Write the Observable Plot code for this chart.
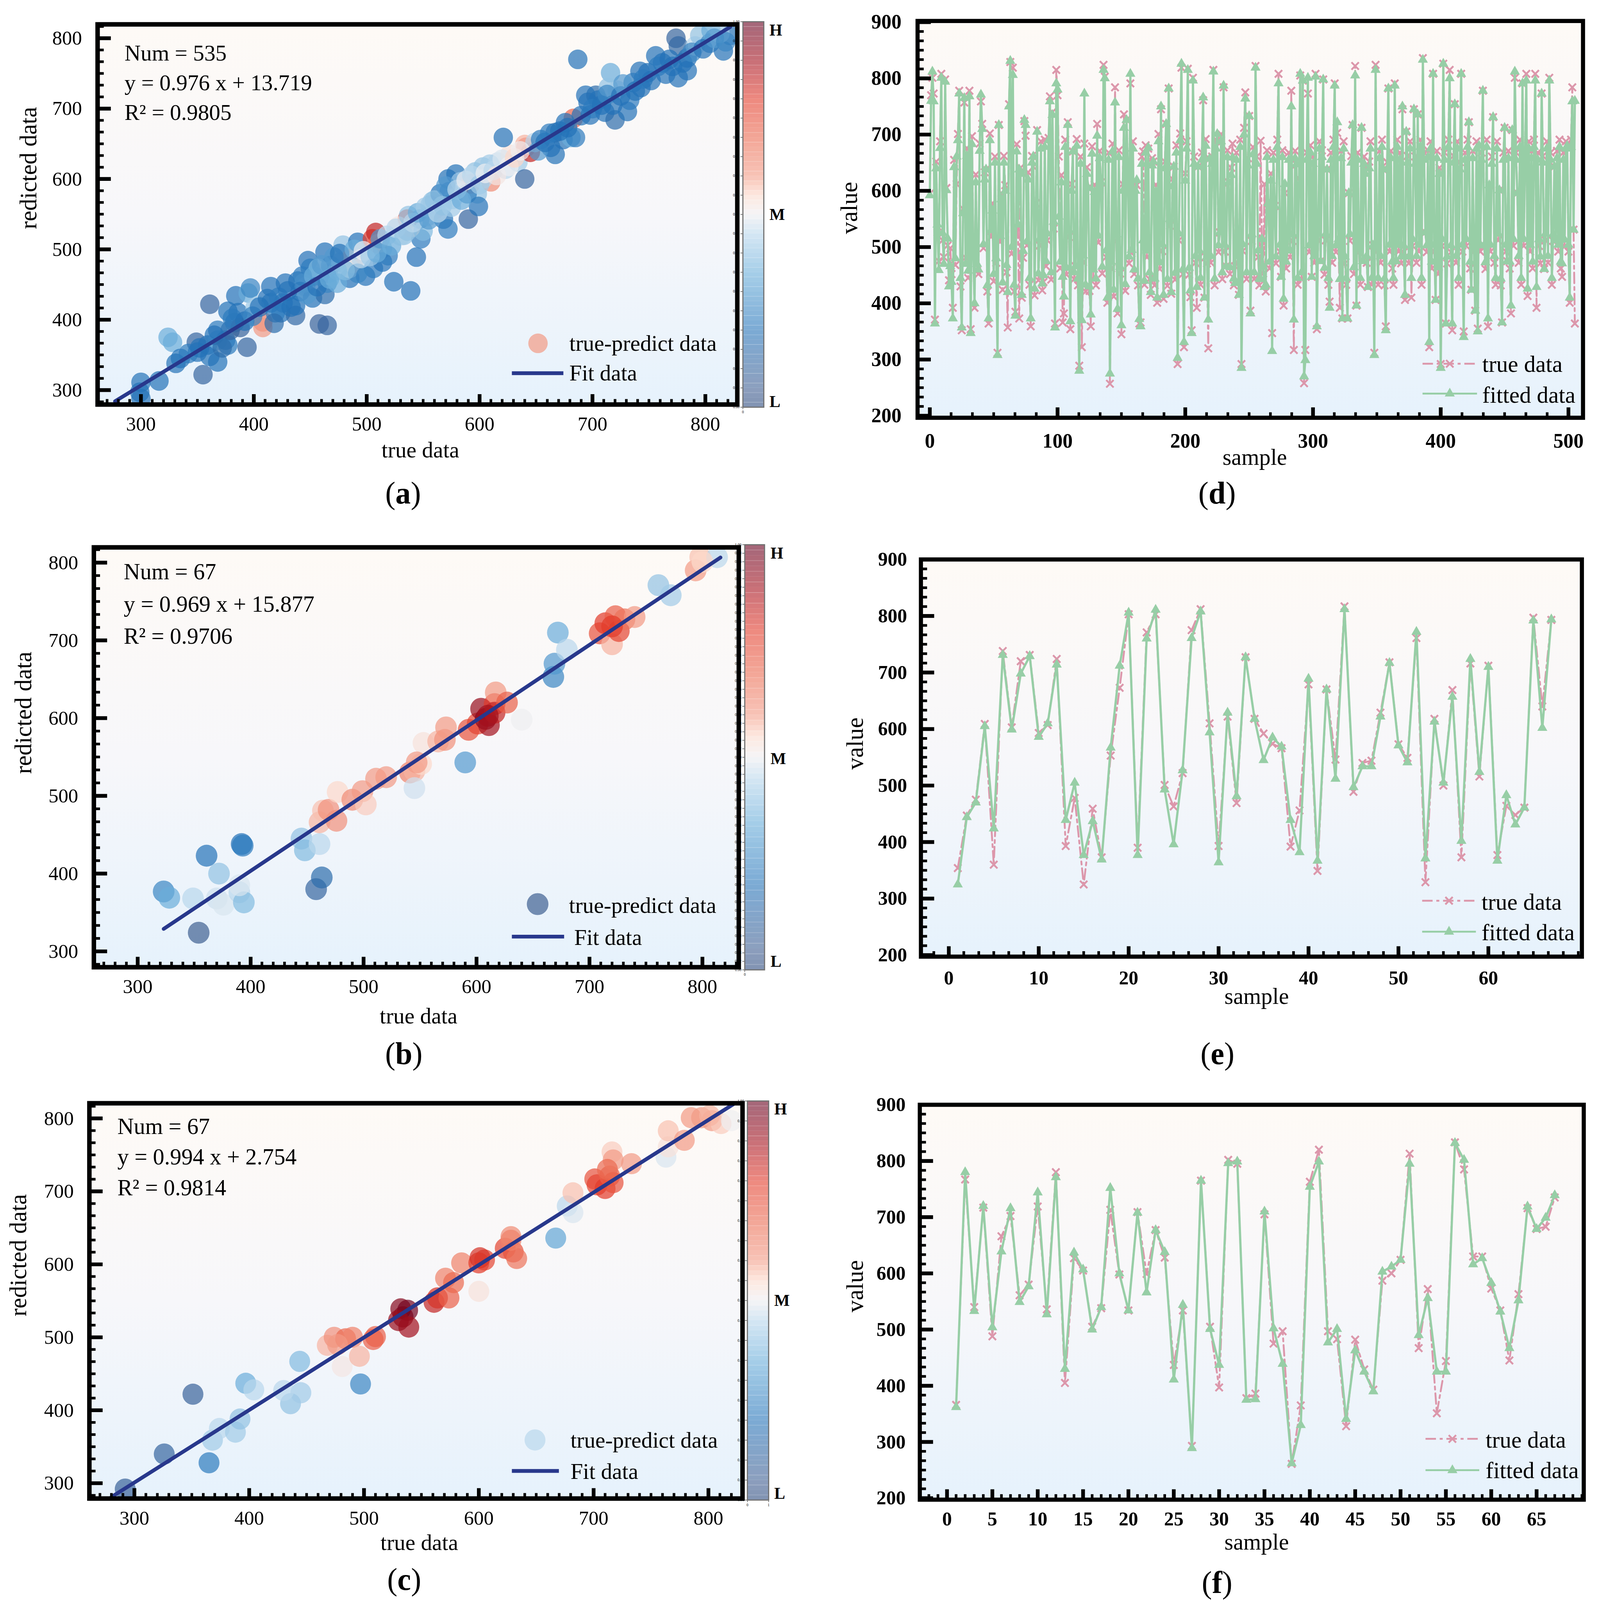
<!DOCTYPE html>
<html><head><meta charset="utf-8">
<script src="https://cdn.jsdelivr.net/npm/d3@7"></script>
<script src="https://cdn.jsdelivr.net/npm/@observablehq/plot@0.6"></script>
<style>
html,body{margin:0;padding:0;background:#fff;overflow:hidden;}
#page{position:relative;width:4287px;height:4234px;background:#fff;overflow:hidden;font-family:"Liberation Serif",serif;}
.cap{position:absolute;font-size:82px;line-height:1;transform:translate(-50%,-50%);white-space:nowrap;color:#000;font-family:"Liberation Serif",serif;}
</style></head>
<body>
<svg width="0" height="0" style="position:absolute"><defs>
<linearGradient id="bg" x1="0" y1="0" x2="0" y2="1">
<stop offset="0" stop-color="#fefaf6"/><stop offset="0.5" stop-color="#f7f7fa"/><stop offset="1" stop-color="#e6f2fc"/>
</linearGradient></defs></svg>
<div id="page"></div>
<script>
// ---------------- DATA ----------------
// scatter (a): [true, predicted, density level]
const aPoints = [[300,311,0.2],[299,297,0.2],[300,288,0.2],[316,313,0.2],[331,338,0.2],[324,375,0.35],[328,368,0.35],[349,368,0.1],[355,322,0.1],[359,364,0.2],[361,348,0.2],[368,371,0.35],[375,371,0.2],[377,364,0.22],[379,385,0.1],[383,396,0.2],[377,412,0.2],[386,410,0.2],[388,389,0.08],[394,361,0.1],[361,422,0.1],[384,434,0.2],[395,438,0.35],[397,445,0.25],[404,420,0.45],[408,397,0.65],[408,389,0.6],[415,447,0.2],[415,424,0.2],[424,410,0.2],[426,424,0.2],[430,441,0.2],[437,406,0.12],[437,420,0.2],[439,455,0.2],[446,447,0.4],[448,484,0.2],[450,473,0.22],[452,431,0.2],[458,394,0.08],[465,392,0.1],[463,436,0.15],[463,496,0.2],[466,466,0.4],[465,452,0.25],[468,477,0.2],[477,482,0.4],[479,506,0.4],[485,459,0.2],[486,487,0.57],[488,480,0.55],[485,473,0.48],[492,510,0.2],[499,462,0.2],[506,473,0.22],[505,515,0.8],[508,524,0.85],[510,508,0.7],[514,501,0.4],[524,454,0.2],[539,441,0.2],[544,489,0.2],[548,515,0.22],[530,519,0.47],[536,543,0.75],[539,531,0.55],[528,533,0.52],[547,543,0.2],[554,547,0.42],[556,563,0.4],[561,557,0.45],[568,543,0.2],[572,529,0.22],[573,582,0.2],[579,607,0.2],[572,600,0.2],[576,571,0.42],[590,543,0.1],[592,593,0.65],[598,579,0.4],[599,561,0.2],[596,610,0.4],[603,617,0.4],[610,596,0.63],[616,624,0.47],[623,614,0.45],[627,635,0.53],[634,624,0.42],[621,659,0.2],[640,600,0.1],[641,645,0.75],[645,638,0.85],[640,649,0.58],[649,652,0.45],[663,645,0.2],[667,666,0.15],[674,656,0.2],[681,659,0.35],[685,659,0.22],[683,686,0.7],[687,770,0.2],[698,691,0.2],[696,709,0.2],[703,719,0.15],[705,712,0.2],[711,695,0.2],[720,684,0.15],[716,751,0.35],[722,726,0.45],[731,696,0.2],[733,712,0.22],[743,730,0.2],[742,753,0.2],[756,775,0.2],[749,751,0.2],[765,749,0.2],[776,744,0.2],[771,760,0.2],[774,800,0.1],[776,789,0.12],[784,772,0.2],[791,789,0.45],[795,804,0.4],[804,793,0.25],[805,811,0.35],[816,782,0.2],[822,804,0.2],[813,807,0.42],[457,473,0.38],[474,470,0.4],[444,452,0.38],[474,452,0.35],[492,466,0.25],[514,482,0.2],[519,491,0.22],[536,526,0.4],[550,526,0.38],[558,568,0.4],[565,579,0.2],[583,596,0.42],[589,579,0.22],[603,600,0.45],[609,621,0.42],[654,656,0.22],[667,635,0.2],[678,673,0.2],[694,719,0.2],[714,730,0.4],[718,705,0.2],[762,765,0.2],[736,737,0.22],[784,754,0.2],[401,417,0.42],[368,385,0.22],[419,410,0.22],[350,354,0.2],[368,340,0.2],
[335,345,0.2],[342,352,0.22],[352,360,0.2],[365,378,0.2],[372,360,0.15],[381,402,0.22],[392,398,0.2],[399,405,0.25],[405,418,0.2],[412,430,0.2],[418,395,0.15],[422,432,0.22],[428,452,0.2],[433,418,0.2],[441,440,0.2],[443,462,0.22],[447,436,0.3],[453,462,0.35],[456,447,0.2],[460,478,0.3],[467,458,0.35],[471,489,0.3],[476,494,0.2],[481,470,0.38],[489,500,0.35],[495,487,0.45],[497,498,0.5],[503,490,0.42],[509,495,0.35],[512,515,0.3],[518,520,0.45],[522,505,0.35],[526,530,0.45],[533,520,0.4],[537,548,0.4],[541,538,0.45],[545,552,0.35],[552,560,0.42],[555,542,0.3],[560,570,0.4],[563,552,0.45],[567,562,0.4],[570,590,0.3],[575,560,0.42],[580,585,0.45],[584,570,0.35],[588,598,0.5],[593,605,0.45],[600,592,0.42],[605,608,0.5],[612,612,0.45],[615,605,0.52],[620,628,0.48],[626,618,0.5],[631,630,0.55],[636,640,0.5],[652,640,0.3],[658,652,0.2],[662,665,0.22],[671,668,0.2],[676,680,0.2],[690,690,0.2],[700,700,0.22],[708,705,0.2],[713,720,0.25],[725,718,0.2],[727,735,0.3],[738,725,0.2],[745,742,0.22],[752,740,0.2],[758,760,0.22],[768,770,0.2],[780,765,0.2],[788,780,0.25],[798,785,0.2],[808,800,0.3],[818,795,0.25]];
// scatter (b)
const bPoints = [[323,377,0.25],[328,369,0.35],[349,368,0.45],[354,324,0.05],[361,423,0.2],[372,400,0.4],[370,368,0.47],[376,360,0.48],[390,376,0.45],[392,438,0.2],[393,436,0.22],[394,363,0.38],[445,445,0.4],[448,430,0.38],[461,438,0.45],[458,380,0.1],[463,395,0.15],[461,466,0.58],[464,481,0.57],[469,482,0.62],[476,468,0.62],[477,505,0.55],[490,495,0.63],[499,506,0.6],[502,489,0.56],[511,522,0.6],[520,524,0.6],[541,530,0.65],[545,532,0.58],[551,541,0.55],[545,510,0.47],[553,568,0.53],[566,570,0.58],[572,572,0.62],[573,588,0.6],[590,543,0.3],[593,585,0.75],[601,593,0.78],[604,612,0.92],[608,599,0.95],[611,591,0.9],[616,618,0.8],[617,633,0.6],[616,607,0.85],[627,620,0.72],[640,598,0.5],[668,653,0.25],[669,670,0.3],[672,710,0.35],[680,688,0.45],[709,709,0.75],[714,722,0.8],[720,695,0.58],[723,731,0.72],[726,712,0.78],[731,727,0.68],[740,730,0.6],[761,771,0.4],[772,758,0.42],[794,790,0.6],[798,807,0.57],[813,807,0.45],[800,801,0.55],[390,385,0.48],[720,718,0.8],[610,603,0.9],[547,543,0.6]];
// scatter (c)
const cPoints = [[292,292,0.08],[326,340,0.1],[351,422,0.08],[365,328,0.22],[368,359,0.42],[374,375,0.45],[388,370,0.42],[392,388,0.4],[397,437,0.35],[404,428,0.45],[436,409,0.4],[444,467,0.38],[445,424,0.42],[430,427,0.45],[468,489,0.58],[474,500,0.62],[481,460,0.52],[484,498,0.7],[490,500,0.65],[496,474,0.58],[497,436,0.25],[508,497,0.72],[510,501,0.72],[532,539,0.95],[534,528,0.95],[538,537,0.98],[539,514,0.9],[530,523,0.92],[561,548,0.85],[564,554,0.82],[574,554,0.72],[571,581,0.65],[578,575,0.7],[585,602,0.65],[600,563,0.53],[600,602,0.8],[605,606,0.78],[623,622,0.78],[628,638,0.63],[630,617,0.75],[633,608,0.68],[667,636,0.33],[677,680,0.45],[682,671,0.48],[682,698,0.57],[701,717,0.75],[703,709,0.78],[710,704,0.8],[714,721,0.72],[717,712,0.75],[716,754,0.56],[717,743,0.6],[733,738,0.6],[763,747,0.48],[765,761,0.53],[765,783,0.57],[779,770,0.6],[785,801,0.6],[794,801,0.6],[803,797,0.6],[811,793,0.56],[820,797,0.5],[628,633,0.65],[477,490,0.6],[601,609,0.82],[712,730,0.7],[801,804,0.58]];
const fitA = {slope: 0.976, icpt: 13.719, x: [277, 822]};
const fitB = {slope: 0.969, icpt: 15.877, x: [323, 816]};
const fitC = {slope: 0.994, icpt: 2.754, x: [280, 823]};
const eqA = ["Num = 535", "y = 0.976 x + 13.719", "R\u00b2 = 0.9805"];
const eqB = ["Num = 67", "y = 0.969 x + 15.877", "R\u00b2 = 0.9706"];
const eqC = ["Num = 67", "y = 0.994 x + 2.754", "R\u00b2 = 0.9814"];
const legendLevels = {a: 0.6, b: 0.05, c: 0.45};
const scatterTicks = [300, 400, 500, 600, 700, 800];

// time series (d): samples 0..505
const dTrue = [595,770,801,773,371,652,526,475,688,808, 512,482,798,605,503,441,498,452,392,655, 468,612,701,778,430,352,568,757,481,676, 445,778,354,697,502,392,629,458,452,684, 759,719,498,633,638,421,364,702,518,578, 439,661,472,312,717,509,596,424,662,610, 455,357,754,829,488,819,421,385,683,532, 373,641,410,481,724,698,503,633,433,359, 662,643,414,578,708,441,503,688,423,438, 691,466,512,694,768,442,740,533,364,815,
770,661,462,628,366,382,691,451,722,518, 354,612,670,443,466,692,432,289,661,322, 473,684,421,642,605,422,359,679,443,611, 432,719,508,671,615,453,824,803,482,401, 668,257,462,684,412,784,511,382,672,453, 345,612,736,422,726,651,471,791,489,688, 452,613,610,432,364,366,661,670,433,681, 482,675,443,415,658,652,432,611,401,701, 461,745,493,408,652,719,431,782,538,417, 621,643,442,681,292,512,702,819,452,322,
631,688,817,451,411,352,801,661,472,392, 643,482,433,668,761,410,692,471,320,657, 472,661,815,432,688,689,491,526,701,443, 784,492,466,672,615,452,641,684,432,466, 668,472,415,691,292,493,712,775,443,658, 733,387,511,678,443,822,661,482,432,689, 502,453,612,421,672,578,462,631,347,668, 573,471,691,808,492,447,672,396,596,462, 494,668,482,778,511,317,671,647,433,622, 805,443,796,258,317,668,773,491,681,447,
661,472,808,354,512,688,475,672,798,451, 512,638,433,403,668,472,691,791,491,703, 502,392,671,373,688,471,433,373,596,511, 662,717,452,822,396,668,491,433,712,475, 661,641,472,429,652,688,433,503,312,824, 492,433,671,472,691,638,432,359,651,782, 492,671,462,433,791,475,691,492,668,471, 745,491,406,705,662,471,688,410,502,745, 661,472,736,492,691,433,836,668,526,491, 672,322,688,462,808,492,406,671,452,641,
292,502,826,668,364,471,691,815,491,352, 662,754,472,688,433,651,808,492,350,668, 502,691,722,462,424,671,492,387,688,355, 680,492,668,778,503,461,691,359,610,492, 661,731,472,433,688,512,601,432,366,668, 712,492,475,671,462,382,708,502,801,668, 596,472,691,433,791,502,668,808,413,688, 492,671,462,691,808,392,668,502,471,773, 662,461,512,688,472,801,668,433,511,643, 512,671,492,691,462,447,668,501,688,680,
492,401,691,784,531,364];
const dFit = [592,760,812,759,364,640,540,459,676,801, 525,470,794,601,515,430,466,438,373,642, 480,661,690,773,445,357,560,765,470,662, 458,768,347,683,490,400,615,470,460,671, 771,710,505,620,638,432,373,690,530,565, 452,650,480,308,717,520,585,437,650,600, 468,420,750,831,500,806,433,378,670,540, 638,630,415,493,726,717,510,620,445,373, 650,661,426,566,705,453,515,675,435,450, 678,475,524,690,759,455,735,545,357,791,
780,554,474,615,447,412,678,463,717,530, 368,600,670,455,466,680,444,280,648,370, 485,773,433,630,605,430,380,666,460,598, 444,698,520,658,615,465,815,800,494,410, 655,275,474,670,424,757,523,390,660,465, 361,600,712,434,726,638,483,808,495,675, 460,600,619,444,372,359,648,512,440,668, 494,677,455,420,645,652,444,598,410,688, 473,750,505,415,640,719,443,782,550,420, 608,643,454,668,303,524,690,826,460,331,
618,675,815,463,423,347,796,648,484,429, 643,494,445,655,766,410,680,483,371,657, 484,648,812,444,675,701,503,526,688,455, 787,504,466,660,615,464,628,659,444,436, 655,484,415,678,285,505,700,764,455,645, 733,382,523,665,455,819,648,494,444,443, 514,465,429,433,660,578,474,618,315,655, 573,483,678,791,504,447,660,408,612,474, 494,655,494,750,523,371,658,647,445,610, 808,455,796,270,299,655,801,503,668,447,
648,484,803,359,524,675,475,660,798,463, 524,638,445,392,655,484,678,787,503,722, 514,443,658,373,675,483,445,373,596,523, 650,717,464,805,396,655,503,445,712,475, 648,630,484,429,640,675,445,503,308,815, 504,445,658,484,678,638,444,352,638,782, 504,658,474,445,787,475,678,504,655,483, 750,503,415,705,650,483,675,445,514,745, 648,484,736,504,678,445,833,655,526,503, 660,331,675,474,808,504,406,658,464,630,
285,514,826,655,364,483,678,800,503,364, 650,754,484,675,445,638,808,504,340,655, 514,678,722,474,424,658,504,387,675,350, 680,504,655,778,503,473,678,373,610,504, 648,731,484,445,675,524,601,444,366,655, 712,504,475,658,474,396,708,514,812,655, 596,484,678,445,791,514,655,796,426,675, 504,658,474,678,796,429,655,514,483,773, 650,461,524,675,484,796,655,445,523,643, 512,658,504,678,474,471,655,513,675,680,
504,410,678,759,531,760];
// time series (e): samples 1..67
const eTrue = [354,447,475,609,360,738,603,720,731,593,607,724,393,478,325,459,373,553,673,803,390,771,803,501,463,522,775,812,610,393,622,469,727,618,592,574,566,392,456,679,349,670,546,817,489,540,544,629,718,573,549,761,329,618,500,669,373,716,516,712,377,464,448,461,797,640,793];
const eFit = [325,444,470,605,424,731,599,698,729,586,610,714,439,505,377,437,369,567,712,806,377,760,811,493,396,527,761,808,594,364,629,481,727,618,545,585,569,439,382,689,367,670,512,812,497,534,534,622,717,571,541,772,371,613,505,657,402,724,524,710,367,483,431,461,792,602,794];
// time series (f): samples 1..67
const fTrue = [366,767,540,717,488,666,702,561,580,719,536,780,405,627,605,505,538,713,598,534,709,599,677,628,437,534,293,765,505,397,802,795,378,386,705,475,497,261,365,763,820,497,483,328,482,429,393,587,600,624,813,467,572,351,444,833,785,630,630,573,534,445,563,716,679,683,735];
const fFit = [362,780,533,720,504,639,716,549,577,744,527,771,430,637,607,500,540,752,600,534,708,566,677,638,411,544,289,765,501,437,796,799,375,376,710,502,439,262,330,754,799,477,501,341,463,425,390,603,612,624,795,490,556,425,425,832,802,616,627,583,532,467,552,719,679,699,739];
const tsYTicks = [200, 300, 400, 500, 600, 700, 800, 900];
const dXTicks = [0, 100, 200, 300, 400, 500];
const eXTicks = [0, 10, 20, 30, 40, 50, 60];
const fXTicks = [0, 5, 10, 15, 20, 25, 30, 35, 40, 45, 50, 55, 60, 65];
const colorbarLabels = ["H", "M", "L"];
const legendNames = {scatter: ["true-predict data", "Fit data"], ts: ["true data", "fitted data"]};
const axisTitles = {scatter: ["true data", "redicted data"], ts: ["sample", "value"]};

// ---------------- STYLE ----------------
const FONT = "Liberation Serif";
const NAVY = "#28388c", PINK = "#dc97ab", GREEN = "#97cea6";
const COLOR = {type: "linear", interpolate: "rgb",
  domain: [0, 0.05, 0.2, 0.35, 0.45, 0.5, 0.55, 0.6, 0.7, 0.8, 0.9, 1],
  range: ["#2b4a7e","#3f5f92","#2372b8","#6aadda","#b9d7ec","#eeeef1","#fcd9cb","#f29a85","#eb6a50","#e23a2a","#a3101d","#67001f"]};
const page = document.getElementById("page");
function put(node, left, top) {
  node.style.position = "absolute"; node.style.left = left + "px"; node.style.top = top + "px";
  page.appendChild(node);
}
const hseg = (L) => ({draw(ctx) { ctx.moveTo(-L, 0); ctx.lineTo(L, 0); }});
const within = (arr, d) => arr.filter(v => v >= Math.min(...d) && v <= Math.max(...d));

function tickMarks(fr, xMaj, xMin, yMaj, yMin, xd, yd) {
  const fw = fr.r - fr.l, fh = fr.b - fr.t;
  return [
    Plot.ruleX(within(xMin, xd), {stroke: "black", strokeWidth: 7, insetTop: fh - 14}),
    Plot.ruleX(within(xMaj, xd), {stroke: "black", strokeWidth: 10, insetTop: fh - 27}),
    Plot.ruleY(within(yMin, yd), {stroke: "black", strokeWidth: 7, insetRight: fw - 17}),
    Plot.ruleY(within(yMaj, yd), {stroke: "black", strokeWidth: 10, insetRight: fw - 36})
  ];
}

function makePlot(o, marks, color) {
  const svg = Plot.plot({
    width: o.w, height: o.h,
    marginLeft: o.fr.l - o.left, marginRight: o.left + o.w - o.fr.r,
    marginTop: o.fr.t - o.top, marginBottom: o.top + o.h - o.fr.b,
    x: {domain: o.xd}, y: {domain: o.yd},
    ...(color ? {color} : {}),
    style: {fontFamily: FONT, background: "none", overflow: "visible", color: "black"},
    marks
  });
  put(svg, o.left, o.top);
}

function scatter(o) {
  const pts = o.pts.map(([x, y, c]) => ({x, y, c}));
  const fitLine = o.fit.x.map(x => ({x, y: o.fit.slope * x + o.fit.icpt}));
  const yMin = d3.range(-1, 32).map(i => 300 + i * 100 / 6);
  const xMin = d3.range(27, 84).map(i => i * 10);
  const L = o.leg;
  makePlot(o, [
    Plot.frame({fill: "url(#bg)"}),
    Plot.dot(pts, {x: "x", y: "y", r: o.r, fill: "c", fillOpacity: 0.7, clip: true}),
    Plot.line(fitLine, {x: "x", y: "y", stroke: NAVY, strokeWidth: 10, clip: true}),
    ...tickMarks(o.fr, scatterTicks, xMin, scatterTicks, yMin, o.xd, o.yd),
    Plot.axisX(scatterTicks, {tickSize: 0, tickPadding: 31, fontSize: 53, label: null}),
    Plot.axisY(scatterTicks, {tickSize: 0, tickPadding: 42, fontSize: 53, label: null}),
    Plot.frame({stroke: "black", strokeWidth: 12}),
    Plot.text([o.eq.join("\n")], {text: d => d, frameAnchor: "top-left", textAnchor: "start", lineAnchor: "top",
      dx: o.eqDx, dy: o.eqDy, fontSize: o.eqFont, lineHeight: o.eqLH}),
    Plot.dot([o.legLevel], {fill: d => d, fillOpacity: 0.7, r: o.r, frameAnchor: "top-left", dx: L.dotDx, dy: L.dotDy}),
    Plot.text([legendNames.scatter[0]], {text: d => d, frameAnchor: "top-left", textAnchor: "start", lineAnchor: "middle",
      dx: L.textDx, dy: L.textDy, fontSize: 60}),
    Plot.dot([0], {symbol: hseg(L.half), stroke: NAVY, strokeWidth: 10, fill: "none", frameAnchor: "top-left", dx: L.lineDx, dy: L.lineDy}),
    Plot.text([legendNames.scatter[1]], {text: d => d, frameAnchor: "top-left", textAnchor: "start", lineAnchor: "middle",
      dx: L.fitTextDx, dy: L.fitTextDy, fontSize: 60}),
    Plot.text([axisTitles.scatter[0]], {text: d => d, frameAnchor: "bottom", lineAnchor: "middle", dx: o.xt.dx, dy: o.xt.dy, fontSize: 60}),
    Plot.text([axisTitles.scatter[1]], {text: d => d, frameAnchor: "left", lineAnchor: "middle", rotate: -90, dx: o.yt.dx, dy: o.yt.dy, fontSize: 63})
  ], COLOR);
}

function colorbar(cb) {
  const w = 150, pad = 30, step = 1 / 80;
  const lv = d3.range(0, 1 - 1e-9, step);
  const svg = Plot.plot({
    width: w, height: cb.b - cb.t + 2 * pad,
    marginLeft: 0, marginRight: w - (cb.r - cb.l), marginTop: pad, marginBottom: pad,
    x: {domain: [0, 1]}, y: {domain: [0, 1]}, color: COLOR,
    style: {fontFamily: FONT, background: "none", overflow: "visible", color: "black"},
    marks: [
      Plot.rect(lv, {x1: 0, x2: 1, y1: d => d, y2: d => d + step, fill: d => d + step / 2, fillOpacity: 0.6}),
      Plot.ruleY(lv.filter((d, i) => i % 2 === 1), {stroke: "#ffffff", strokeOpacity: 0.18, strokeWidth: 2}),
      Plot.frame({stroke: "#707070", strokeWidth: 3}),
      Plot.text([colorbarLabels[0]], {text: d => d, frameAnchor: "top-right", textAnchor: "start", lineAnchor: "middle", dx: cb.lx, dy: cb.hy, fontSize: 44, fontWeight: "bold"}),
      Plot.text([colorbarLabels[1]], {text: d => d, frameAnchor: "right", textAnchor: "start", lineAnchor: "middle", dx: cb.lx, dy: cb.my, fontSize: 44, fontWeight: "bold"}),
      Plot.text([colorbarLabels[2]], {text: d => d, frameAnchor: "bottom-right", textAnchor: "start", lineAnchor: "middle", dx: cb.lx, dy: cb.ly, fontSize: 44, fontWeight: "bold"})
    ]
  });
  put(svg, cb.l, cb.t - pad);
}

function series(o) {
  const n = Math.min(o.tv.length, o.fv.length);
  const rows = d3.range(n).map(i => ({s: i + o.start, t: o.tv[i], f: o.fv[i]}));
  const yMin = d3.range(0, 43).map(i => 200 + i * 100 / 6);
  const L = o.leg;
  makePlot(o, [
    Plot.frame({fill: "url(#bg)"}),
    Plot.line(rows, {x: "s", y: "t", stroke: PINK, strokeWidth: 5, strokeDasharray: "28,10,8,10"}),
    Plot.dot(rows, {x: "s", y: "t", symbol: "times", stroke: PINK, strokeWidth: 5, r: 9}),
    Plot.line(rows, {x: "s", y: "f", stroke: GREEN, strokeWidth: 6}),
    Plot.dot(rows, {x: "s", y: "f", symbol: "triangle", fill: GREEN, stroke: "none", r: 10}),
    ...tickMarks(o.fr, o.xMaj, o.xMin, tsYTicks, yMin, o.xd, o.yd),
    Plot.axisX(o.xMaj, {tickSize: 0, tickPadding: o.padX, fontSize: o.tf, fontWeight: "bold", label: null}),
    Plot.axisY(tsYTicks, {tickSize: 0, tickPadding: o.padY, fontSize: o.tf, fontWeight: "bold", label: null}),
    Plot.frame({stroke: "black", strokeWidth: 11}),
    Plot.dot([0], {symbol: hseg(L.half), stroke: PINK, strokeWidth: 5, strokeDasharray: "28,10,8,10", fill: "none", frameAnchor: "top-left", dx: L.lineDx, dy: L.trueDy}),
    Plot.dot([0], {symbol: "times", stroke: PINK, strokeWidth: 5, r: 9, frameAnchor: "top-left", dx: L.lineDx, dy: L.trueDy}),
    Plot.text([legendNames.ts[0]], {text: d => d, frameAnchor: "top-left", textAnchor: "start", lineAnchor: "middle", dx: L.textDx, dy: L.trueTy, fontSize: 62}),
    Plot.dot([0], {symbol: hseg(L.half), stroke: GREEN, strokeWidth: 5, fill: "none", frameAnchor: "top-left", dx: L.lineDx, dy: L.fitDy}),
    Plot.dot([0], {symbol: "triangle", fill: GREEN, stroke: "none", r: 10, frameAnchor: "top-left", dx: L.lineDx, dy: L.fitDy}),
    Plot.text([legendNames.ts[1]], {text: d => d, frameAnchor: "top-left", textAnchor: "start", lineAnchor: "middle", dx: L.textDx, dy: L.fitTy, fontSize: 62}),
    Plot.text([axisTitles.ts[0]], {text: d => d, frameAnchor: "bottom", lineAnchor: "middle", dx: o.xt.dx, dy: o.xt.dy, fontSize: 61}),
    Plot.text([axisTitles.ts[1]], {text: d => d, frameAnchor: "left", lineAnchor: "middle", rotate: -90, dx: o.yt.dx, dy: o.yt.dy, fontSize: 64})
  ]);
}

// ---------------- PANELS ----------------
scatter({left: 0, top: 0, w: 2000, h: 1260, fr: {l: 261, r: 1975, t: 64, b: 1070},
  xd: [261.6, 828.3], yd: [279.5, 819.7], r: 26, pts: aPoints, fit: fitA,
  eq: eqA, eqFont: 60, eqLH: 1.31, eqDx: 72, eqDy: 40, legLevel: legendLevels.a,
  leg: {dotDx: 1180, dotDy: 844, textDx: 1264, textDy: 845, lineDx: 1179, lineDy: 923, half: 69, fitTextDx: 1264, fitTextDy: 923},
  xt: {dx: 8, dy: 121}, yt: {dx: -184, dy: 39}});
scatter({left: 0, top: 1380, w: 2000, h: 1390, fr: {l: 251, r: 1979, t: 1448, b: 2559},
  xd: [261.2, 832.2], yd: [279.6, 819.6], r: 29, pts: bPoints, fit: fitB,
  eq: eqB, eqFont: 61, eqLH: 1.40, eqDx: 80, eqDy: 24, legLevel: legendLevels.b,
  leg: {dotDx: 1189, dotDy: 944, textDx: 1273, textDy: 948, lineDx: 1190, lineDy: 1030, half: 70, fitTextDx: 1287, fitTextDy: 1033},
  xt: {dx: 6, dy: 130}, yt: {dx: -188, dy: 44}});
scatter({left: 0, top: 2850, w: 2000, h: 1384, fr: {l: 239, r: 1989, t: 2919, b: 3965},
  xd: [260.8, 829.7], yd: [279, 820.8], r: 28, pts: cPoints, fit: fitC,
  eq: eqC, eqFont: 61, eqLH: 1.336, eqDx: 75, eqDy: 23, legLevel: legendLevels.c,
  leg: {dotDx: 1194, dotDy: 891, textDx: 1289, textDy: 892, lineDx: 1195, lineDy: 973, half: 63, fitTextDx: 1289, fitTextDy: 975},
  xt: {dx: 9, dy: 117}, yt: {dx: -190, dy: 41}});

colorbar({l: 1990, r: 2046, t: 57, b: 1077, lx: 15, hy: 22, my: 0, ly: -14});
colorbar({l: 1995, r: 2048, t: 1441, b: 2566, lx: 16, hy: 23, my: 4, ly: -22});
colorbar({l: 2002, r: 2059, t: 2913, b: 3969, lx: 15, hy: 22, my: 0, ly: -17});

series({left: 2150, top: 0, w: 2137, h: 1260, fr: {l: 2458, r: 4241, t: 55, b: 1105},
  xd: [-9.6, 511.4], yd: [196.5, 902], tv: dTrue, fv: dFit, start: 0,
  xMaj: dXTicks, xMin: d3.range(0, 31).map(i => i * 100 / 6), tf: 54, padX: 41, padY: 43,
  leg: {lineDx: 1426, half: 73, trueDy: 907, trueTy: 909, fitDy: 986, fitTy: 990, textDx: 1513},
  xt: {dx: 12, dy: 105}, yt: {dx: -183, dy: 39}});
series({left: 2150, top: 1380, w: 2137, h: 1390, fr: {l: 2467, r: 4238, t: 1480, b: 2531},
  xd: [-3.1, 70.4], yd: [197.3, 900], tv: eTrue, fv: eFit, start: 1,
  xMaj: eXTicks, xMin: d3.range(-1, 43).map(i => i * 10 / 6), tf: 52, padX: 36, padY: 37,
  leg: {lineDx: 1415, half: 72, trueDy: 903, trueTy: 907, fitDy: 985, fitTy: 988, textDx: 1502},
  xt: {dx: 14, dy: 106}, yt: {dx: -176, dy: 31}});
series({left: 2150, top: 2850, w: 2137, h: 1384, fr: {l: 2464, r: 4243, t: 2923, b: 3968},
  xd: [-3.0, 70.2], yd: [197.3, 900], tv: fTrue, fv: fFit, start: 1,
  xMaj: fXTicks, xMin: d3.range(-2, 71), tf: 52, padX: 31, padY: 38,
  leg: {lineDx: 1427, half: 72, trueDy: 884, trueTy: 888, fitDy: 967, fitTy: 968, textDx: 1516},
  xt: {dx: 13, dy: 113}, yt: {dx: -173, dy: 27}});

// captions
[["a", 1080, 1305], ["d", 3261, 1305], ["b", 1082, 2789], ["e", 3262, 2789], ["c", 1083, 4180], ["f", 3261, 4188]]
  .forEach(([t, x, y]) => {
    const d = document.createElement("div");
    d.className = "cap"; d.innerHTML = "(<b>" + t + "</b>)";
    d.style.left = x + "px"; d.style.top = y + "px";
    page.appendChild(d);
  });

// fit the 4287x4234 page into the actual viewport if it is smaller
(function fit() {
  const sx = Math.min(1, window.innerWidth / 4287), sy = Math.min(1, window.innerHeight / 4234);
  if (sx < 0.999 || sy < 0.999) {
    page.style.transformOrigin = "0 0";
    page.style.transform = "scale(" + sx + "," + sy + ")";
  }
})();
</script>
</body></html>
